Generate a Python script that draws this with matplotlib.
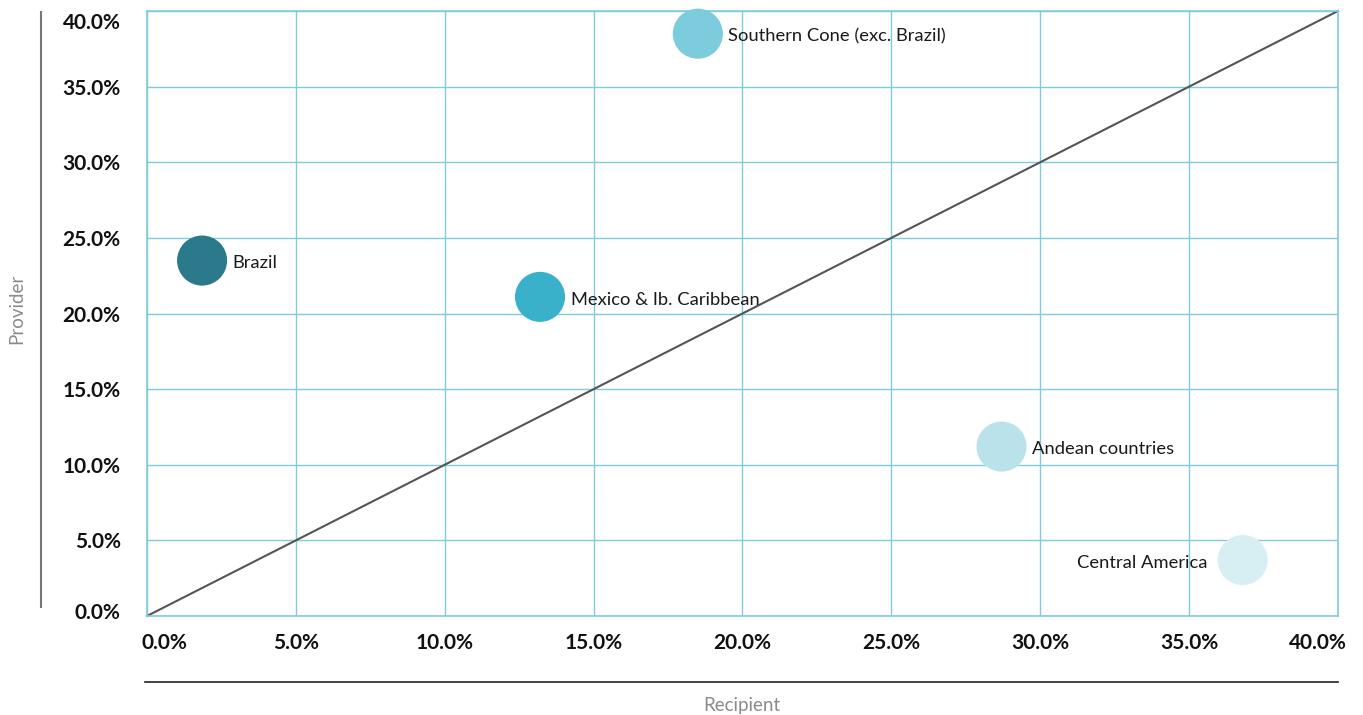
import matplotlib.pyplot as plt
import matplotlib.transforms as mtransforms
from matplotlib.lines import Line2D
from matplotlib.ticker import PercentFormatter

plt.rcParams['font.family'] = ['Lato', 'DejaVu Sans']

regioes = ['Southern Cone (exc. Brazil)', 'Brazil', 'Mexico & Ib. Caribbean',
           'Andean countries', 'Central America']
recipient = [18.5, 1.85, 13.2, 28.7, 36.8]
provider = [38.5, 23.5, 21.1, 11.2, 3.7]
cores = ['#7DCCDD', '#2A7A8C', '#3AB1CB', '#B9E2EA', '#D7EFF3']
lado = ['right', 'right', 'right', 'right', 'left']

W, H = 1363, 715
fig = plt.figure(figsize=(W / 100, H / 100), dpi=100)
ax = fig.add_axes([147 / W, 99 / H, (1338 - 147) / W, (616 - 11) / H])

grade = '#7FCCDB'
ax.set_xlim(0, 40)
ax.set_ylim(0, 40)
ax.set_xticks(range(0, 41, 5))
ax.set_yticks(range(0, 41, 5))
ax.grid(True, color=grade, linewidth=1)
ax.set_axisbelow(True)
for s in ax.spines.values():
    s.set_color(grade)
    s.set_linewidth(1.2)

fmt = PercentFormatter(decimals=1)
ax.xaxis.set_major_formatter(fmt)
ax.yaxis.set_major_formatter(fmt)
ax.tick_params(length=0, labelsize=15, labelcolor='#111111')
ax.tick_params(axis='x', pad=12)
ax.tick_params(axis='y', pad=19)
for lb in ax.get_xticklabels() + ax.get_yticklabels():
    lb.set_fontweight('bold')

# rotulos das pontas puxados pra dentro
xl = ax.get_xticklabels()
yl = ax.get_yticklabels()
def desloca(lb, dx, dy):
    lb.set_transform(lb.get_transform() + mtransforms.ScaledTranslation(dx / 100, dy / 100, fig.dpi_scale_trans))
desloca(xl[0], 17, 0)
desloca(xl[-1], -20, 0)
desloca(yl[0], 0, 5)
desloca(yl[-1], 0, -10)

# diagonal
ax.plot([0, 40], [0, 40], color='#555555', linewidth=1.5, zorder=2, clip_on=False)

ax.scatter(recipient, provider, s=1300, c=cores, zorder=3, clip_on=False, linewidths=0)

for nome, x, y, l in zip(regioes, recipient, provider, lado):
    if l == 'right':
        ax.annotate(nome, (x, y), xytext=(22, -2), textcoords='offset points',
                    ha='left', va='center', fontsize=13.2, color='#1a1a1a')
    else:
        ax.annotate(nome, (x, y), xytext=(-25, -2), textcoords='offset points',
                    ha='right', va='center', fontsize=13.2, color='#1a1a1a')

# linhas dos titulos dos eixos
fig.add_artist(Line2D([41 / W, 41 / W], [1 - 12 / H, 1 - 607 / H], color='#777777', linewidth=1.5))
fig.add_artist(Line2D([145 / W, 1338 / W], [1 - 682 / H, 1 - 682 / H], color='#222222', linewidth=1.2))
fig.text(17 / W, 1 - 309 / H, 'Provider', rotation=90, ha='center', va='center',
         fontsize=13.5, color='#8a8a8a')
fig.text(742 / W, 1 - 705 / H, 'Recipient', ha='center', va='center',
         fontsize=13.5, color='#8a8a8a')

plt.savefig('out.png', dpi=100)
